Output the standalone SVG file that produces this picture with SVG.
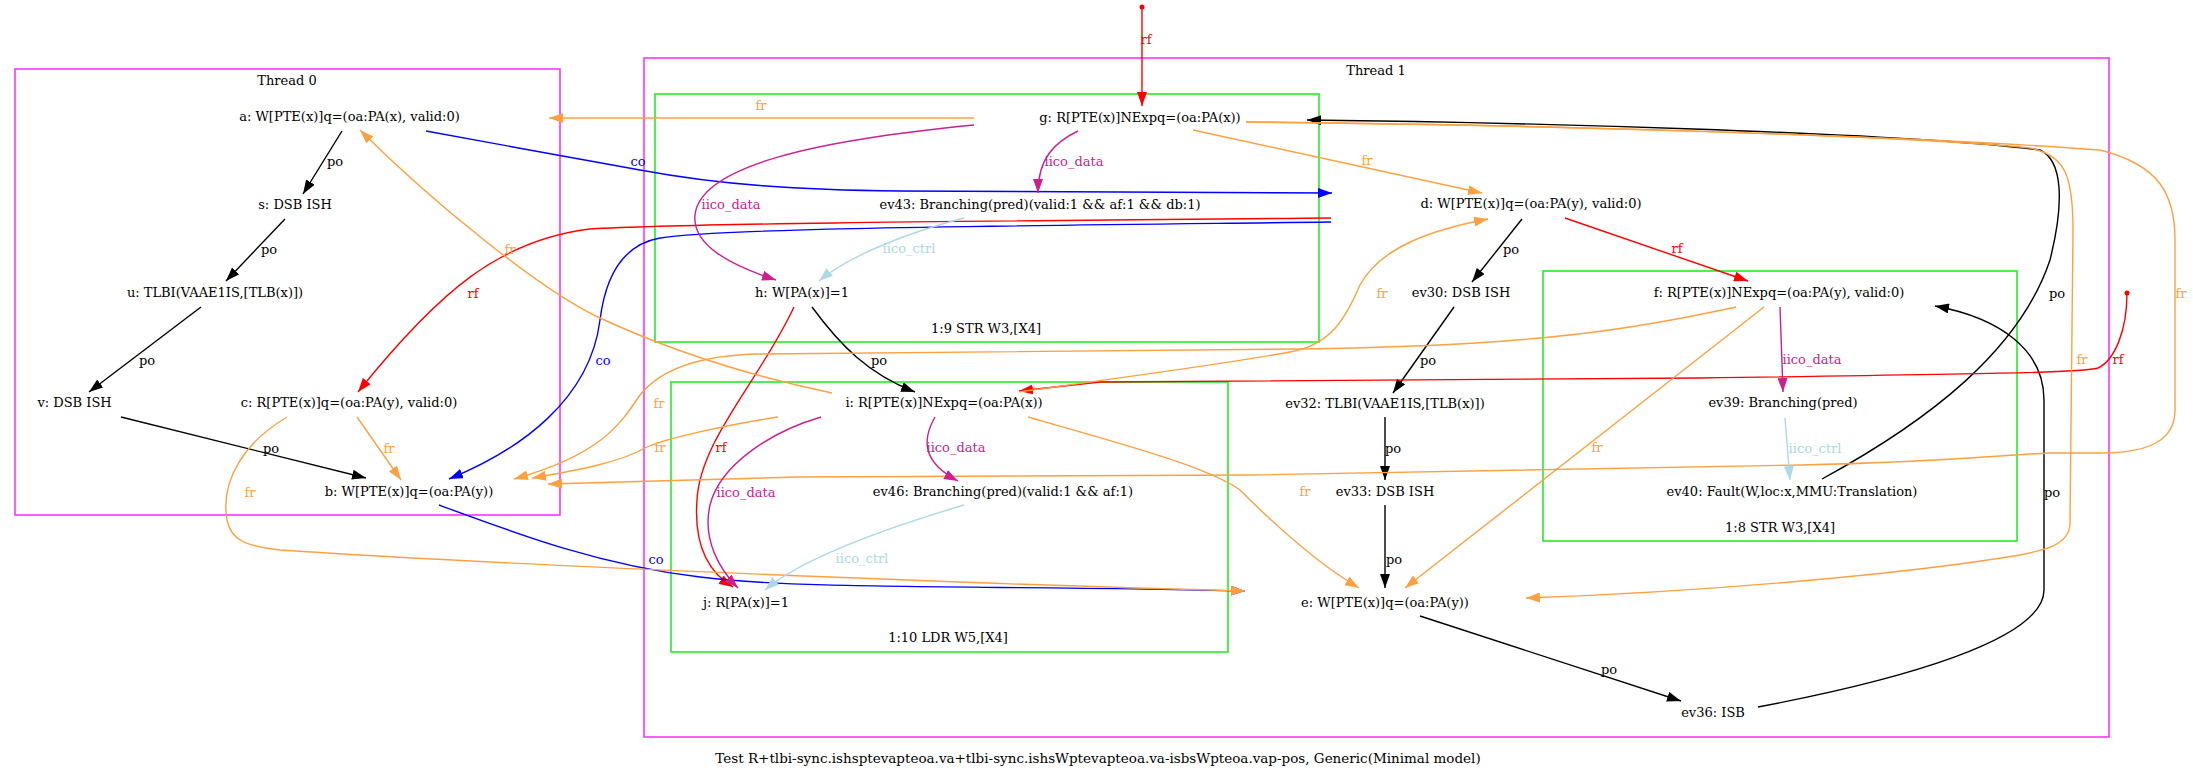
<svg xmlns="http://www.w3.org/2000/svg" width="2193" height="779" viewBox="0 0 2193 779">
<style>
  text { font-family: "DejaVu Serif", "Liberation Serif", serif; font-size: 13px; text-anchor: middle; fill: #000; }
  .title { font-size: 13.5px; }
  .thread { fill: none; stroke: #ff33ff; stroke-width: 1.6; }
  .instr { fill: none; stroke: #22ee22; stroke-width: 1.6; }
  .e { fill: none; stroke-width: 1.4; }
  .po { stroke: #000; }
  .rf { stroke: #ff0000; }
  .co { stroke: #0000ff; }
  .fr { stroke: #ffa040; }
  .idata { stroke: #cc2090; }
  .ictrl { stroke: #add8e6; }
  .lpo { fill: #000; }
  .lrf { fill: #ff0000; }
  .lco { fill: #0000ff; }
  .lfr { fill: #ffa040; }
  .lidata { fill: #cc2090; }
  .lictrl { fill: #add8e6; }
</style>
<defs>
  <marker id="ah-po" viewBox="0 0 14 10" refX="14" refY="5" markerWidth="14" markerHeight="10" markerUnits="userSpaceOnUse" orient="auto"><path d="M0,0 L14,5 L0,10 z" fill="#000"/></marker>
  <marker id="ah-rf" viewBox="0 0 14 10" refX="14" refY="5" markerWidth="14" markerHeight="10" markerUnits="userSpaceOnUse" orient="auto"><path d="M0,0 L14,5 L0,10 z" fill="#ff0000"/></marker>
  <marker id="ah-co" viewBox="0 0 14 10" refX="14" refY="5" markerWidth="14" markerHeight="10" markerUnits="userSpaceOnUse" orient="auto"><path d="M0,0 L14,5 L0,10 z" fill="#0000ff"/></marker>
  <marker id="ah-fr" viewBox="0 0 14 10" refX="14" refY="5" markerWidth="14" markerHeight="10" markerUnits="userSpaceOnUse" orient="auto"><path d="M0,0 L14,5 L0,10 z" fill="#ffa040"/></marker>
  <marker id="ah-idata" viewBox="0 0 14 10" refX="14" refY="5" markerWidth="14" markerHeight="10" markerUnits="userSpaceOnUse" orient="auto"><path d="M0,0 L14,5 L0,10 z" fill="#cc2090"/></marker>
  <marker id="ah-ictrl" viewBox="0 0 14 10" refX="14" refY="5" markerWidth="14" markerHeight="10" markerUnits="userSpaceOnUse" orient="auto"><path d="M0,0 L14,5 L0,10 z" fill="#add8e6"/></marker>
</defs>
<rect width="2193" height="779" fill="#fff"/>

<!-- clusters -->
<g id="clusters">
  <g id="thread0">
    <rect class="thread" x="15" y="69" width="545" height="446"/>
    <text x="287" y="85">Thread 0</text>
  </g>
  <g id="thread1">
    <rect class="thread" x="644" y="58" width="1465" height="679"/>
    <text x="1376" y="75">Thread 1</text>
  </g>
  <g id="instr-1-9">
    <rect class="instr" x="655" y="94" width="664" height="248"/>
    <text x="986" y="333">1:9 STR W3,[X4]</text>
  </g>
  <g id="instr-1-10">
    <rect class="instr" x="671" y="382" width="557" height="270"/>
    <text x="948" y="642">1:10 LDR W5,[X4]</text>
  </g>
  <g id="instr-1-8">
    <rect class="instr" x="1543" y="271" width="474" height="270"/>
    <text x="1780" y="532">1:8 STR W3,[X4]</text>
  </g>
</g>

<!-- connectors -->
<g id="edges">
  <!-- program order -->
  <g><path class="e po" d="M342,131 L303,194" marker-end="url(#ah-po)"/><text class="lpo" x="335" y="165.5">po</text></g>
  <g><path class="e po" d="M285,219 L226,281" marker-end="url(#ah-po)"/><text class="lpo" x="269" y="253.5">po</text></g>
  <g><path class="e po" d="M201,307 L89,392" marker-end="url(#ah-po)"/><text class="lpo" x="147" y="364.5">po</text></g>
  <g><path class="e po" d="M121,417 L366,478" marker-end="url(#ah-po)"/><text class="lpo" x="271" y="452.5">po</text></g>
  <g><path class="e po" d="M812,307 C840,345 868,374 915,392" marker-end="url(#ah-po)"/><text class="lpo" x="879" y="364.5">po</text></g>
  <g><path class="e po" d="M1522,219 L1472,282" marker-end="url(#ah-po)"/><text class="lpo" x="1511" y="253.5">po</text></g>
  <g><path class="e po" d="M1454,307 L1393,393" marker-end="url(#ah-po)"/><text class="lpo" x="1428" y="364.5">po</text></g>
  <g><path class="e po" d="M1385,417 L1385,480" marker-end="url(#ah-po)"/><text class="lpo" x="1393" y="452.5">po</text></g>
  <g><path class="e po" d="M1385,505 L1385,588" marker-end="url(#ah-po)"/><text class="lpo" x="1394" y="563.5">po</text></g>
  <g><path class="e po" d="M1420,616 L1681,701" marker-end="url(#ah-po)"/><text class="lpo" x="1609" y="673.5">po</text></g>
  <g><path class="e po" d="M1758,707 C1900,680 2044,640 2044,590 L2044,400 C2044,350 2000,318 1935,306" marker-end="url(#ah-po)"/><text class="lpo" x="2052" y="496.5">po</text></g>
  <g><path class="e po" d="M1822,479 C1930,420 2020,350 2050,260 C2065,200 2062,160 2040,150 C1900,132 1500,122 1307,120" marker-end="url(#ah-po)"/><text class="lpo" x="2057" y="297.5">po</text></g>

  <!-- reads-from -->
  <g><circle cx="1142" cy="7" r="2.5" fill="#ff0000"/><path class="e rf" d="M1142,7 L1142,106" marker-end="url(#ah-rf)"/><text class="lrf" x="1146" y="43.5">rf</text></g>
  <g><circle cx="2127" cy="293" r="2.5" fill="#ff0000"/><path class="e rf" d="M2127,293 C2127,330 2115,360 2098,368 C2085,372 2050,373 1700,378 L1100,382 L1019,391" marker-end="url(#ah-rf)"/><text class="lrf" x="2118" y="363.5">rf</text></g>
  <g><path class="e rf" d="M1331,218 C1000,221 700,223 590,229 C500,240 440,290 358,392" marker-end="url(#ah-rf)"/><text class="lrf" x="473" y="297.5">rf</text></g>
  <g><path class="e rf" d="M1565,218 L1748,281" marker-end="url(#ah-rf)"/><text class="lrf" x="1677" y="252.5">rf</text></g>
  <g><path class="e rf" d="M794,307 C760,380 700,440 697,500 C694,540 705,570 733,587" marker-end="url(#ah-rf)"/><text class="lrf" x="721" y="451.5">rf</text></g>

  <!-- coherence -->
  <g><path class="e co" d="M426,131 C500,145 560,155 640,170 C720,185 800,190 900,191 L1332,193" marker-end="url(#ah-co)"/><text class="lco" x="638" y="165.5">co</text></g>
  <g><path class="e co" d="M1331,222 C1000,226 720,228 660,238 C620,245 605,280 600,320 C590,400 520,450 449,479" marker-end="url(#ah-co)"/><text class="lco" x="603" y="364.5">co</text></g>
  <g><path class="e co" d="M439,505 C520,535 600,565 700,577 C800,590 1000,585 1245,591" marker-end="url(#ah-co)"/><text class="lco" x="656" y="563.5">co</text></g>

  <!-- from-reads -->
  <g><path class="e fr" d="M357,417 L401,480" marker-end="url(#ah-fr)"/><text class="lfr" x="389" y="452.5">fr</text></g>
  <g><path class="e fr" d="M832,393 C760,378 680,355 600,318 C540,290 430,200 360,130" marker-end="url(#ah-fr)"/><text class="lfr" x="510" y="253.5">fr</text></g>
  <g><path class="e fr" d="M974,118 L549,118" marker-end="url(#ah-fr)"/><text class="lfr" x="761" y="109.5">fr</text></g>
  <g><path class="e fr" d="M1193,130 L1482,193" marker-end="url(#ah-fr)"/><text class="lfr" x="1367" y="164.5">fr</text></g>
  <g><path class="e fr" d="M1019,392 C1100,380 1200,368 1290,352 C1330,345 1345,320 1360,285 C1380,248 1430,230 1488,219" marker-end="url(#ah-fr)"/><text class="lfr" x="1382" y="297.5">fr</text></g>
  <g><path class="e fr" d="M1736,307 C1640,328 1540,346 1300,349 L760,354 C700,355 660,370 640,395 C620,425 600,455 514,479" marker-end="url(#ah-fr)"/><text class="lfr" x="659" y="407.5">fr</text></g>
  <g><path class="e fr" d="M778,417 C720,426 660,440 645,448 C620,462 580,470 532,478" marker-end="url(#ah-fr)"/><text class="lfr" x="660" y="451.5">fr</text></g>
  <g><path class="e fr" d="M287,417 C245,442 220,480 227,520 C231,540 245,546 280,550 C500,565 1000,585 1245,591" marker-end="url(#ah-fr)"/><text class="lfr" x="250" y="496.5">fr</text></g>
  <g><path class="e fr" d="M1028,417 C1130,446 1210,468 1240,490 C1280,530 1320,565 1359,588" marker-end="url(#ah-fr)"/><text class="lfr" x="1305" y="495.5">fr</text></g>
  <g><path class="e fr" d="M1764,307 L1405,588" marker-end="url(#ah-fr)"/><text class="lfr" x="1597" y="451.5">fr</text></g>
  <g><path class="e fr" d="M1246,122 C1500,124 1900,135 2030,148 C2065,155 2073,175 2073,230 L2070,525 C2068,545 2045,550 2020,555 C1900,575 1700,592 1526,598" marker-end="url(#ah-fr)"/><text class="lfr" x="2082" y="363.5">fr</text></g>
  <g><path class="e fr" d="M1246,122 C1500,124 1900,135 2100,150 C2160,165 2175,195 2175,240 L2175,410 C2175,440 2150,453 2100,453 L2050,453 C2000,455 1950,462 1800,465 L1250,475 L800,477 L548,484" marker-end="url(#ah-fr)"/><text class="lfr" x="2181" y="297.5">fr</text></g>

  <!-- intra-instruction dependencies -->
  <g><path class="e idata" d="M1078,131 C1055,142 1038,158 1038,193" marker-end="url(#ah-idata)"/><text class="lidata" x="1074" y="165.5">iico_data</text></g>
  <g><path class="e idata" d="M974,125 C820,140 700,165 695,215 C692,245 730,265 776,280" marker-end="url(#ah-idata)"/><text class="lidata" x="731" y="208.5">iico_data</text></g>
  <g><path class="e idata" d="M935,417 C922,440 922,462 958,481" marker-end="url(#ah-idata)"/><text class="lidata" x="956" y="451.5">iico_data</text></g>
  <g><path class="e idata" d="M821,417 C770,432 720,465 710,505 C702,540 720,570 738,588" marker-end="url(#ah-idata)"/><text class="lidata" x="746" y="496.5">iico_data</text></g>
  <g><path class="e idata" d="M1780,307 L1783,392" marker-end="url(#ah-idata)"/><text class="lidata" x="1812" y="363.5">iico_data</text></g>
  <g><path class="e ictrl" d="M964,218 C910,232 850,255 819,281" marker-end="url(#ah-ictrl)"/><text class="lictrl" x="909" y="252.5">iico_ctrl</text></g>
  <g><path class="e ictrl" d="M964,505 C880,530 800,560 765,590" marker-end="url(#ah-ictrl)"/><text class="lictrl" x="862" y="562.5">iico_ctrl</text></g>
  <g><path class="e ictrl" d="M1785,418 L1790,480" marker-end="url(#ah-ictrl)"/><text class="lictrl" x="1815" y="452.5">iico_ctrl</text></g>
</g>

<!-- events -->
<g id="node-a"><text x="349.5" y="121">a: W[PTE(x)]q=(oa:PA(x), valid:0)</text></g>
<g id="node-s"><text x="295" y="209">s: DSB ISH</text></g>
<g id="node-u"><text x="215" y="297">u: TLBI(VAAE1IS,[TLB(x)])</text></g>
<g id="node-v"><text x="74.5" y="407">v: DSB ISH</text></g>
<g id="node-c"><text x="349" y="407">c: R[PTE(x)]q=(oa:PA(y), valid:0)</text></g>
<g id="node-b"><text x="409" y="496">b: W[PTE(x)]q=(oa:PA(y))</text></g>
<g id="node-g"><text x="1140" y="122">g: R[PTE(x)]NExpq=(oa:PA(x))</text></g>
<g id="node-ev43"><text x="1040" y="209">ev43: Branching(pred)(valid:1 &amp;&amp; af:1 &amp;&amp; db:1)</text></g>
<g id="node-h"><text x="802" y="297">h: W[PA(x)]=1</text></g>
<g id="node-i"><text x="944" y="407">i: R[PTE(x)]NExpq=(oa:PA(x))</text></g>
<g id="node-ev46"><text x="1003" y="496">ev46: Branching(pred)(valid:1 &amp;&amp; af:1)</text></g>
<g id="node-j"><text x="746" y="607">j: R[PA(x)]=1</text></g>
<g id="node-d"><text x="1531" y="208">d: W[PTE(x)]q=(oa:PA(y), valid:0)</text></g>
<g id="node-ev30"><text x="1461" y="297">ev30: DSB ISH</text></g>
<g id="node-ev32"><text x="1385" y="408">ev32: TLBI(VAAE1IS,[TLB(x)])</text></g>
<g id="node-ev33"><text x="1385" y="496">ev33: DSB ISH</text></g>
<g id="node-e"><text x="1385" y="607">e: W[PTE(x)]q=(oa:PA(y))</text></g>
<g id="node-ev36"><text x="1713" y="717">ev36: ISB</text></g>
<g id="node-f"><text x="1779" y="297">f: R[PTE(x)]NExpq=(oa:PA(y), valid:0)</text></g>
<g id="node-ev39"><text x="1783" y="407">ev39: Branching(pred)</text></g>
<g id="node-ev40"><text x="1792" y="496">ev40: Fault(W,loc:x,MMU:Translation)</text></g>

<text class="title" x="1098" y="763">Test R+tlbi-sync.ishsptevapteoa.va+tlbi-sync.ishsWptevapteoa.va-isbsWpteoa.vap-pos, Generic(Minimal model)</text>
</svg>
